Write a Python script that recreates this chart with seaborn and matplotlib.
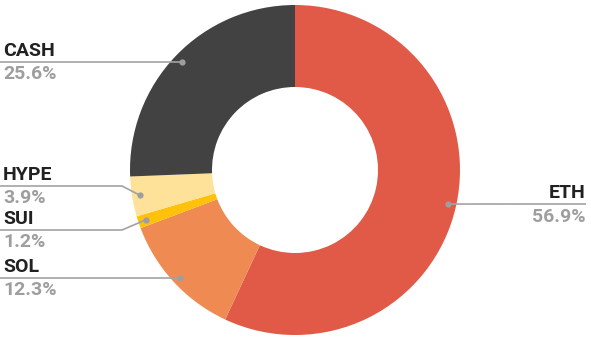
import numpy as np
import matplotlib
matplotlib.use("Agg")
import matplotlib.pyplot as plt
import seaborn as sns

categories = ["ETH", "SOL", "SUI", "HYPE", "CASH"]
values = [56.9, 12.3, 1.2, 3.9, 25.6]
pct_labels = ["56.9%", "12.3%", "1.2%", "3.9%", "25.6%"]
colors = ["#E05A47", "#EE8A52", "#FFC10A", "#FFE299", "#424242"]

sns.set_style("white")
plt.rcParams["font.family"] = ["Roboto", "DejaVu Sans"]

W, H = 591, 341
fig = plt.figure(figsize=(W / 100, H / 100), dpi=100)
ax = fig.add_axes([0, 0, 1, 1])
ax.set_xlim(0, W)
ax.set_ylim(0, H)
ax.set_aspect("equal")
ax.axis("off")

cx, cy_px = 295, 170
R, r_in = 165, 83
Y = lambda y: H - y

ax.pie(values, colors=colors, startangle=90, counterclock=False,
       center=(cx, Y(cy_px)), radius=R,
       wedgeprops=dict(width=R - r_in, linewidth=0), frame=True)
ax.set_xlim(0, W)
ax.set_ylim(0, H)
ax.axis("off")

# label layout (pixel rows of the leader lines)
line_y = {"ETH": 204, "SOL": 278, "SUI": 230, "HYPE": 186, "CASH": 62}
elbow_x = 122
line_col = "#A3A3A3"
total = sum(values)
cum = np.cumsum([0] + values[:-1])
r_dot = 157
fs = 14

for cat, v, c0, pl in zip(categories, values, cum, pct_labels):
    mid = (c0 + v / 2) / total * 360.0
    th = np.deg2rad(mid)
    dx, dy = r_dot * np.sin(th), r_dot * np.cos(th)
    px, py = cx + dx, Y(cy_px) + dy
    ly = Y(line_y[cat])
    if dx > 0:
        ax.plot([px, 586], [py, ly], color=line_col, lw=1.2, solid_capstyle="butt")
        ax.text(586, ly + 6, cat, ha="right", va="baseline", fontsize=fs,
                fontweight="bold", color="#212121")
        ax.text(586, ly - 17.5, pl, ha="right", va="baseline", fontsize=fs,
                fontweight="bold", color="#9E9E9E")
    else:
        if abs(py - ly) > 3:
            ax.plot([px, elbow_x, 0], [py, ly, ly], color=line_col, lw=1.2)
        else:
            ax.plot([px, 0], [ly, ly], color=line_col, lw=1.2)
        ax.text(3, ly + 6, cat, ha="left", va="baseline", fontsize=fs,
                fontweight="bold", color="#212121")
        ax.text(3, ly - 17, pl, ha="left", va="baseline", fontsize=fs,
                fontweight="bold", color="#9E9E9E")
    ax.plot([px], [py if abs(py - ly) > 3 or dx > 0 else ly], "o",
            color="#9E9E9E", markersize=4.5, markeredgewidth=0)

fig.savefig("out.png", dpi=100, facecolor="white")
